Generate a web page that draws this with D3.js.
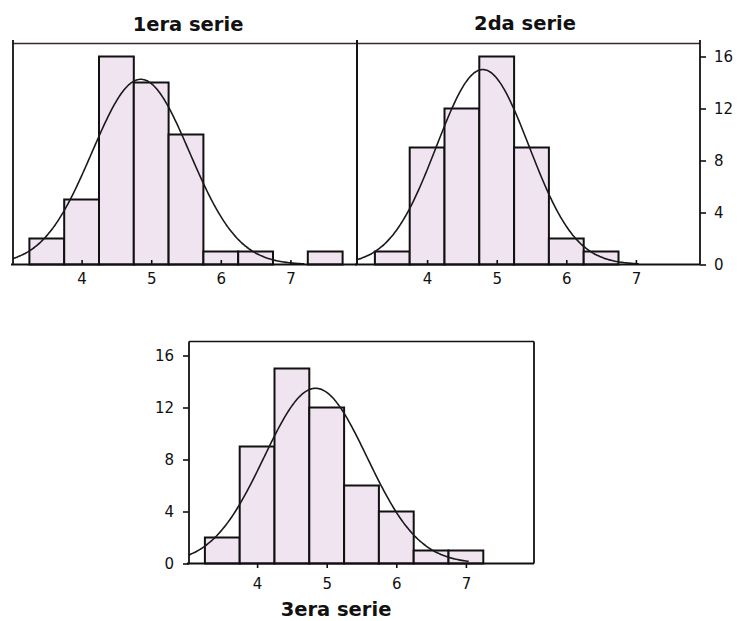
<!DOCTYPE html>
<html>
<head>
<meta charset="utf-8">
<script src="https://cdn.jsdelivr.net/npm/d3@7/dist/d3.min.js"></script>
<style>
  html, body { margin: 0; padding: 0; background: #fff; }
  svg { display: block; }
  .tick-label { font-family: "DejaVu Sans", Verdana, sans-serif; font-size: 15px; fill: #111; }
  .title { font-family: "DejaVu Sans", Verdana, sans-serif; font-weight: bold; font-size: 19.5px; fill: #111; }
</style>
</head>
<body>
<script>
// Histogram bins (class midpoints, width 0.5) and frequencies per series
const binCenters = [3.5, 4, 4.5, 5, 5.5, 6, 6.5, 7, 7.5];
const binWidth = 0.5;
const serie1 = [2, 5, 16, 14, 10, 1, 1, 0, 1];
const serie2 = [1, 9, 12, 16, 9, 2, 1, 0, 0];
const serie3 = [2, 9, 15, 12, 6, 4, 1, 1, 0];
const titles = ["1era serie", "2da serie", "3era serie"];

// Fitted normal curve parameters per series
const fitMean = [4.85, 4.80, 4.84];
const fitSd = [0.70, 0.665, 0.74];
const fitEnd = [7.2, 7.05, 7.05];

const xTicks = [4, 5, 6, 7];
const yTicks = [0, 4, 8, 12, 16];

const W = 739, H = 621;
const svg = d3.select("body").append("svg").attr("width", W).attr("height", H);

const panels = [
  { counts: serie1, title: titles[0], x0: 12, left: 13, right: 357, top: 43.5, base: 264.5,
    titleX: 188, titleY: 31, xLabelY: 284, tickDir: -1, yAxis: null },
  { counts: serie2, title: titles[1], x0: 357.5, left: 357, right: 700, top: 43.5, base: 264.5,
    titleX: 525, titleY: 30, xLabelY: 284, tickDir: -1, yAxis: "right" },
  { counts: serie3, title: titles[2], x0: 187.5, left: 189, right: 534, top: 341.5, base: 563.5,
    titleX: 336, titleY: 616, xLabelY: 589, tickDir: 1, yAxis: "left" }
];

panels.forEach((p, i) => {
  const x = d3.scaleLinear().domain([3, 8]).range([p.x0, p.x0 + 348]);
  const y = d3.scaleLinear().domain([0, 16]).range([p.base, p.base - 208]);
  const g = svg.append("g");

  const clipId = "clip" + i;
  svg.append("clipPath").attr("id", clipId)
    .append("rect").attr("x", p.left).attr("y", p.top - 2)
    .attr("width", p.right - p.left).attr("height", p.base - p.top + 2);

  // bars
  const bins = binCenters.map((c, k) => ({ c, n: p.counts[k] })).filter(d => d.n > 0);
  g.selectAll("rect.bar").data(bins).enter().append("rect")
    .attr("class", "bar")
    .attr("x", d => x(d.c - binWidth / 2))
    .attr("y", d => y(d.n))
    .attr("width", d => x(d.c + binWidth / 2) - x(d.c - binWidth / 2))
    .attr("height", d => y(0) - y(d.n))
    .attr("fill", "#f0e4f0")
    .attr("stroke", "#111")
    .attr("stroke-width", 2);

  // fitted normal curve scaled to counts
  const N = d3.sum(p.counts);
  const mu = fitMean[i], sd = fitSd[i];
  const pts = d3.range(3, fitEnd[i] + 0.001, 0.02).map(v => {
    const z = (v - mu) / sd;
    return [v, N * binWidth * Math.exp(-0.5 * z * z) / (sd * Math.sqrt(2 * Math.PI))];
  });
  g.append("path")
    .datum(pts)
    .attr("clip-path", `url(#${clipId})`)
    .attr("fill", "none")
    .attr("stroke", "#1a1a1a")
    .attr("stroke-width", 1.6)
    .attr("d", d3.line().x(d => x(d[0])).y(d => y(d[1])).curve(d3.curveBasis));

  // frame
  g.append("line").attr("x1", p.left).attr("x2", p.right).attr("y1", p.top).attr("y2", p.top)
    .attr("stroke", i < 2 ? "#3d2634" : "#111").attr("stroke-width", 1.7);
  g.append("line").attr("x1", p.left - 2).attr("x2", p.right).attr("y1", p.base).attr("y2", p.base)
    .attr("stroke", "#111").attr("stroke-width", 1.8);
  g.append("line").attr("x1", p.left).attr("x2", p.left).attr("y1", p.top - (i < 2 ? 3.5 : 0)).attr("y2", p.base)
    .attr("stroke", "#111").attr("stroke-width", 1.8);
  g.append("line").attr("x1", p.right).attr("x2", p.right).attr("y1", p.top - (i < 2 ? 3.5 : 0)).attr("y2", p.base)
    .attr("stroke", "#111").attr("stroke-width", 1.8);

  // x axis ticks and labels
  const xa = g.append("g").attr("transform", `translate(0,${p.base})`)
    .call(d3.axisBottom(x).tickValues(xTicks).tickSize(p.tickDir * 4.5).tickFormat(d3.format("d")));
  xa.select(".domain").remove();
  xa.selectAll(".tick line").attr("stroke", "#111").attr("stroke-width", 1.6);
  xa.selectAll(".tick text").attr("class", "tick-label").attr("y", null).attr("dy", null)
    .attr("transform", `translate(0,${p.xLabelY - p.base})`).attr("font-family", null).attr("font-size", null);

  // y axis
  if (p.yAxis) {
    const axisFn = p.yAxis === "right" ? d3.axisRight(y) : d3.axisLeft(y);
    const ya = g.append("g").attr("transform", `translate(${p.yAxis === "right" ? p.right : p.left},0)`)
      .call(axisFn.tickValues(yTicks).tickSize(6).tickPadding(p.yAxis === "right" ? 8 : 9));
    ya.select(".domain").remove();
    ya.selectAll(".tick line").attr("stroke", "#111").attr("stroke-width", 1.6);
    ya.selectAll(".tick text").attr("class", "tick-label").attr("font-family", null).attr("font-size", null);
  }

  // title
  svg.append("text").attr("class", "title").attr("x", p.titleX).attr("y", p.titleY)
    .attr("text-anchor", "middle").text(p.title);
});
</script>
</body>
</html>
